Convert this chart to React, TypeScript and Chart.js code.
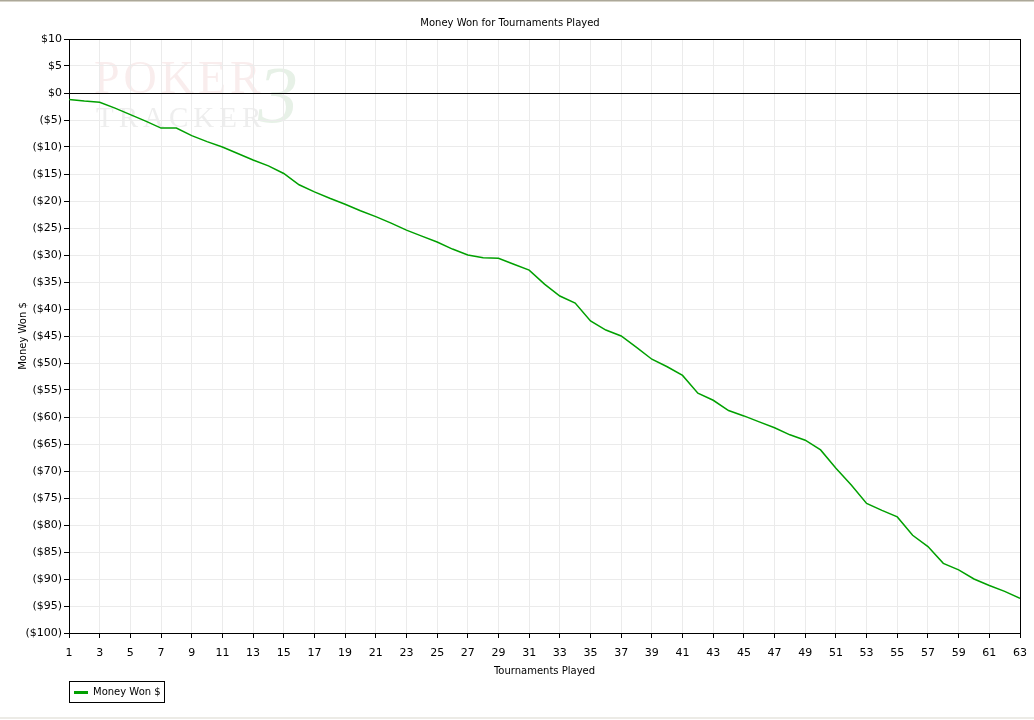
import React, { useEffect, useRef } from "react";
import { Chart, registerables } from "chart.js";

Chart.register(...registerables);

const chartTitle = "Money Won for Tournaments Played";
const seriesName = "Money Won $";
const xAxisTitle = "Tournaments Played";
const yAxisTitle = "Money Won $";

const tournaments = [
  1, 2, 3, 4, 5, 6, 7, 8, 9, 10, 11, 12, 13, 14, 15, 16, 17, 18, 19, 20, 21,
  22, 23, 24, 25, 26, 27, 28, 29, 30, 31, 32, 33, 34, 35, 36, 37, 38, 39, 40,
  41, 42, 43, 44, 45, 46, 47, 48, 49, 50, 51, 52, 53, 54, 55, 56, 57, 58, 59,
  60, 61, 62, 63,
];

const moneyWon = [
  -1.2, -1.5, -1.7, -2.8, -4.0, -5.2, -6.5, -6.5, -7.9, -9.0, -10.0, -11.2,
  -12.4, -13.5, -14.9, -17.0, -18.3, -19.5, -20.6, -21.8, -22.9, -24.1, -25.4,
  -26.5, -27.6, -28.9, -30.0, -30.5, -30.6, -31.7, -32.8, -35.4, -37.6, -38.9,
  -42.2, -43.9, -45.0, -47.1, -49.3, -50.7, -52.3, -55.6, -56.9, -58.8, -59.8,
  -60.9, -62.0, -63.3, -64.3, -66.1, -69.5, -72.6, -76.0, -77.3, -78.5, -81.9,
  -84.0, -87.1, -88.3, -90.0, -91.2, -92.3, -93.6,
];

const xTicks = [
  1, 3, 5, 7, 9, 11, 13, 15, 17, 19, 21, 23, 25, 27, 29, 31, 33, 35, 37, 39,
  41, 43, 45, 47, 49, 51, 53, 55, 57, 59, 61, 63,
];

const yTicks = [
  10, 5, 0, -5, -10, -15, -20, -25, -30, -35, -40, -45, -50, -55, -60, -65,
  -70, -75, -80, -85, -90, -95, -100,
];

const FONT = "'DejaVu Sans', Verdana, sans-serif";
const LINE_COLOR = "#00a000";
const GRID_COLOR = "#ebebeb";

function formatMoney(v: number): string {
  if (v < 0) return "($" + Math.abs(v) + ")";
  return "$" + v;
}

const decorPlugin = {
  id: "decor",
  beforeDraw(chart: any) {
    const ctx = chart.ctx as CanvasRenderingContext2D;
    const w = chart.width;
    const h = chart.height;
    ctx.save();
    ctx.fillStyle = "#ffffff";
    ctx.fillRect(0, 0, w, h);
    // window edges
    ctx.fillStyle = "#aca899";
    ctx.fillRect(0, 0, w, 1);
    ctx.fillStyle = "#d6d3c8";
    ctx.fillRect(0, 1, w, 1);
    ctx.fillStyle = "#ecebe6";
    ctx.fillRect(0, h - 3, w, 2);
    // watermark
    ctx.textBaseline = "alphabetic";
    ctx.textAlign = "left";
    ctx.font = "46px 'Liberation Serif', serif";
    (ctx as any).letterSpacing = "4px";
    ctx.fillStyle = "rgba(200, 80, 80, 0.10)";
    ctx.fillText("POKER", 94, 93);
    ctx.font = "29px 'Liberation Serif', serif";
    (ctx as any).letterSpacing = "5px";
    ctx.fillStyle = "rgba(120, 120, 120, 0.13)";
    ctx.fillText("TRACKER", 96, 127);
    (ctx as any).letterSpacing = "0px";
    ctx.font = "italic 80px 'Liberation Serif', serif";
    ctx.fillStyle = "rgba(60, 140, 60, 0.12)";
    ctx.fillText("3", 258, 122);
    ctx.restore();
  },
  beforeDatasetsDraw(chart: any) {
    const ctx = chart.ctx as CanvasRenderingContext2D;
    const a = chart.chartArea;
    ctx.save();
    ctx.strokeStyle = "#000";
    ctx.lineWidth = 1;
    ctx.beginPath();
    ctx.moveTo(a.left, a.top + 0.5);
    ctx.lineTo(a.right + 0.5, a.top + 0.5);
    ctx.lineTo(a.right + 0.5, a.bottom);
    ctx.stroke();
    ctx.restore();
  },
  afterDraw(chart: any) {
    const ctx = chart.ctx as CanvasRenderingContext2D;
    const a = chart.chartArea;
    const x0 = a.left;
    const y0 = 681;
    ctx.save();
    ctx.strokeStyle = "#000";
    ctx.lineWidth = 1;
    ctx.strokeRect(x0 + 0.5, y0 + 0.5, 95, 21);
    ctx.strokeStyle = LINE_COLOR;
    ctx.lineWidth = 3;
    ctx.beginPath();
    ctx.moveTo(x0 + 5, y0 + 11.5);
    ctx.lineTo(x0 + 19, y0 + 11.5);
    ctx.stroke();
    ctx.fillStyle = "#000";
    ctx.font = "10px " + FONT;
    ctx.textBaseline = "middle";
    ctx.textAlign = "left";
    ctx.fillText(seriesName, x0 + 24, y0 + 11.5);
    ctx.restore();
  },
};

export default function App() {
  const canvasRef = useRef<HTMLCanvasElement | null>(null);

  useEffect(() => {
    const canvas = canvasRef.current;
    if (!canvas) return;
    const chart = new Chart(canvas, {
      type: "line",
      data: {
        datasets: [
          {
            label: seriesName,
            data: tournaments.map((t, i) => ({ x: t, y: moneyWon[i] })),
            borderColor: LINE_COLOR,
            backgroundColor: LINE_COLOR,
            borderWidth: 1.5,
            pointRadius: 0,
            tension: 0,
            fill: false,
          },
        ],
      },
      options: {
        responsive: false,
        animation: false,
        devicePixelRatio: 1,
        layout: { padding: { top: 0, left: 0, right: 14, bottom: 37 } },
        plugins: {
          legend: { display: false },
          tooltip: { enabled: false },
          title: {
            display: true,
            text: chartTitle,
            color: "#000",
            font: { family: FONT, size: 10, weight: "normal" },
            padding: { top: 17, bottom: 10 },
          },
        },
        scales: {
          x: {
            type: "linear",
            min: 1,
            max: 63,
            afterBuildTicks: (axis: any) => {
              axis.ticks = xTicks.map((v) => ({ value: v }));
            },
            afterFit: (scale: any) => {
              scale.height = 50;
              scale.paddingLeft = 0;
              scale.paddingRight = 0;
            },
            ticks: {
              autoSkip: false,
              maxRotation: 0,
              color: "#000",
              padding: 9,
              font: { family: FONT, size: 11 },
              callback: (v: any) => String(v),
            },
            grid: {
              color: (c: any) =>
                c.tick && c.tick.value === 63 ? "#000" : GRID_COLOR,
              tickColor: "#000",
              tickLength: 5,
              lineWidth: 1,
            },
            border: { display: true, color: "#000", width: 1 },
            title: {
              display: true,
              text: xAxisTitle,
              color: "#000",
              font: { family: FONT, size: 10 },
              padding: { top: 0, bottom: 6 },
            },
          },
          y: {
            type: "linear",
            min: -100,
            max: 10,
            afterBuildTicks: (axis: any) => {
              axis.ticks = yTicks.map((v) => ({ value: v }));
            },
            afterFit: (scale: any) => {
              scale.width = 69;
            },
            ticks: {
              autoSkip: false,
              color: "#000",
              padding: 2,
              font: { family: FONT, size: 11 },
              callback: (v: any) => formatMoney(Number(v)),
            },
            grid: {
              color: (c: any) =>
                c.tick && (c.tick.value === 0 || c.tick.value === 10)
                  ? "#000"
                  : GRID_COLOR,
              tickColor: "#000",
              tickLength: 5,
              lineWidth: 1,
            },
            border: { display: true, color: "#000", width: 1 },
            title: {
              display: true,
              text: yAxisTitle,
              color: "#000",
              font: { family: FONT, size: 10 },
              padding: { top: 17, bottom: 0 },
            },
          },
        },
      },
      plugins: [decorPlugin],
    } as any);
    return () => {
      chart.destroy();
    };
  }, []);

  return (
    <div
      style={{
        position: "absolute",
        left: 0,
        top: 0,
        width: 1034,
        height: 720,
        background: "#fff",
      }}
    >
      <canvas
        ref={canvasRef}
        width={1034}
        height={720}
        style={{ display: "block", width: 1034, height: 720 }}
      />
    </div>
  );
}
